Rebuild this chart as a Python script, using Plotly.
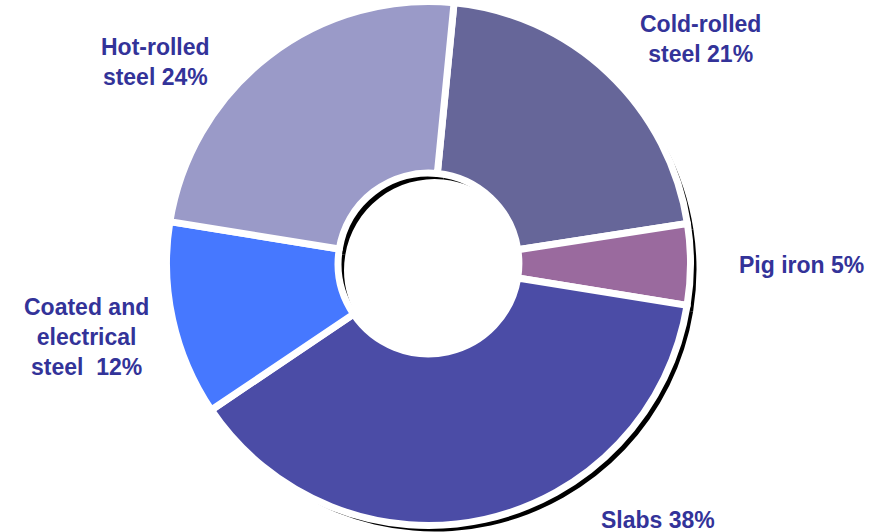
import plotly.graph_objects as go

# Product mix (share of shipments, %), clockwise from the top
categories = ["Cold-rolled<br>steel", "Pig iron", "Slabs",
              "Coated and<br>electrical<br>steel\u00a0", "Hot-rolled<br>steel"]
shares = [21, 5, 38, 12, 24]
colors = ["#666699", "#9a6a9e", "#4b4ca6", "#4678ff", "#9a9ac8"]

# label anchor points (paper coordinates)
label_x = [700 / 883, 801 / 883, 658 / 883, 86 / 883, 155 / 883]
label_y = [1 - 39 / 532, 1 - 265 / 532, 1 - 520 / 532, 1 - 337 / 532, 1 - 62 / 532]

W, H = 883, 532
cx, cy, R = 428.5, 263.5, 262
hole = 0.345
rotation = 5.6
shadow_dx, shadow_dy = 6, 6


def domain(dx=0, dy=0):
    return dict(
        x=[(cx - R + dx) / W, (cx + R + dx) / W],
        y=[1 - (cy + R + dy) / H, 1 - (cy - R + dy) / H],
    )


fig = go.Figure()

# drop shadow ring behind the donut
fig.add_trace(go.Pie(
    values=shares, labels=categories, sort=False, direction="clockwise",
    rotation=rotation, hole=hole, domain=domain(shadow_dx, shadow_dy),
    marker=dict(colors=["#000000"] * len(shares), line=dict(width=0)),
    textinfo="none", hoverinfo="skip", showlegend=False,
))

# main donut
fig.add_trace(go.Pie(
    values=shares, labels=categories, sort=False, direction="clockwise",
    rotation=rotation, hole=hole, domain=domain(),
    marker=dict(colors=colors, line=dict(color="#ffffff", width=7)),
    textinfo="none", showlegend=False,
))

for cat, val, x, y in zip(categories, shares, label_x, label_y):
    fig.add_annotation(
        x=x, y=y, xref="paper", yref="paper",
        text=f"{cat} {val}%", showarrow=False,
        xanchor="center", yanchor="middle", align="center",
        font=dict(family="Liberation Sans, Arial, sans-serif", size=23,
                  color="#333399", weight="bold"),
    )

fig.update_layout(
    width=W, height=H,
    margin=dict(l=0, r=0, t=0, b=0),
    paper_bgcolor="#ffffff", plot_bgcolor="#ffffff",
)

fig.write_html("out.html")
